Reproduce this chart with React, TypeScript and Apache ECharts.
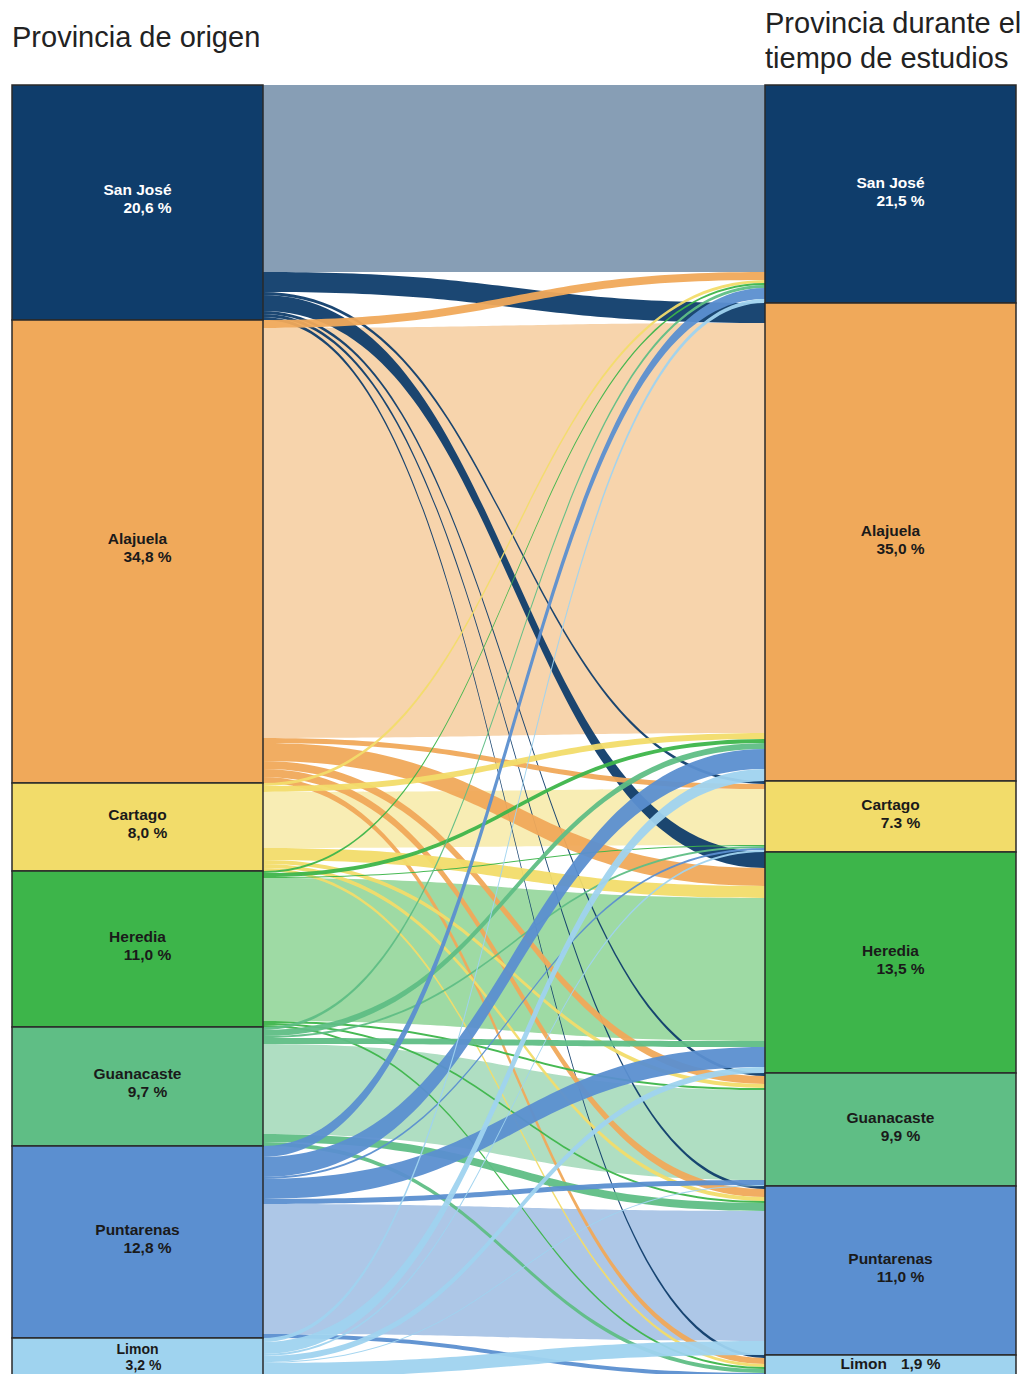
import React, { useEffect, useRef } from "react";
import * as echarts from "echarts";

// Provinces (same order on both sides)
const provinces = ["San José", "Alajuela", "Cartago", "Heredia", "Guanacaste", "Puntarenas", "Limon"];
// Percent labels shown in the nodes
const originPct = ["20,6 %", "34,8 %", "8,0 %", "11,0 %", "9,7 %", "12,8 %", "3,2 %"];
const studyPct = ["21,5 %", "35,0 %", "7.3 %", "13,5 %", "9,9 %", "11,0 %", "1,9 %"];
// Node colours
const provinceColors = ["#0f3d6b", "#f0a95a", "#f2dc6a", "#3db54a", "#5fbe85", "#5b8fd0", "#9fd3ef"];
const labelColors = ["#ffffff", "#1a1a1a", "#1a1a1a", "#1a1a1a", "#1a1a1a", "#1a1a1a", "#1a1a1a"];

// Flows from each origin province to each study province
//                       SJ   Al   Ca   He   Gu   Pu   Li
const fromSanJose =    [187,  20,   3,  16,   3,   3,   3];
const fromAlajuela =   [  8, 410,   5,  18,   8,   8,   6];
const fromCartago =    [  3,   6,  56,  12,   4,   4,   3];
const fromHeredia =    [  2,   4,   1, 143,   2,   2,   2];
const fromGuanacaste = [  3,   6,   2,   6,  90,   8,   4];
const fromPuntarenas = [ 11,  20,   2,  20,   5, 130,   4];
const fromLimon =      [  4,  12,   2,   6,   1,  14,   3];

const flowRows = [fromSanJose, fromAlajuela, fromCartago, fromHeredia, fromGuanacaste, fromPuntarenas, fromLimon];

const titleLeft = "Provincia de origen";
const titleRight = "Provincia durante el\ntiempo de estudios";

const FONT = "'Liberation Sans', Arial, Helvetica, sans-serif";

export default function App() {
  const ref = useRef<HTMLDivElement>(null);

  useEffect(() => {
    if (!ref.current) return;
    const chart = echarts.init(ref.current, undefined, { renderer: "svg" });

    const nodes: any[] = [];
    provinces.forEach((p, i) => {
      const last = i === provinces.length - 1;
      nodes.push({
        name: "o:" + p,
        lab: last ? `{nl|${p}}\n{pl|${originPct[i]}}` : `{n|${p}}\n{p|${originPct[i]}}`,
        itemStyle: { color: provinceColors[i] },
        label: last ? { color: labelColors[i], offset: [0, -2] } : { color: labelColors[i], offset: [0, -4] },
      });
    });
    provinces.forEach((p, i) => {
      const last = i === provinces.length - 1;
      nodes.push({
        name: "d:" + p,
        lab: last ? `{n|${p}}{q|${studyPct[i]}}` : `{n|${p}}\n{p|${studyPct[i]}}`,
        itemStyle: { color: provinceColors[i] },
        label: last ? { color: labelColors[i], offset: [0, -4] } : { color: labelColors[i], offset: [0, -3] },
      });
    });

    const selfLinks: any[] = [];
    const crossLinks: any[] = [];
    flowRows.forEach((row, i) => {
      row.forEach((v, j) => {
        const link = {
          source: "o:" + provinces[i],
          target: "d:" + provinces[j],
          value: v,
          lineStyle: {
            color: provinceColors[i],
            opacity: i === j ? 0.5 : 0.95,
          },
        };
        if (i === j) selfLinks.push(link);
        else crossLinks.push(link);
      });
    });

    const tok = { fontFamily: FONT, fontSize: 15.5, fontWeight: "bold", lineHeight: 18 };

    const option: any = {
      animation: false,
      backgroundColor: "#ffffff",
      title: [
        {
          text: titleLeft,
          left: 12,
          top: 22,
          padding: 0,
          textStyle: { fontFamily: FONT, fontSize: 29, fontWeight: "normal", color: "#222222" },
        },
        {
          text: titleRight,
          left: 765,
          top: 5,
          padding: 0,
          textStyle: { fontFamily: FONT, fontSize: 29, fontWeight: "normal", color: "#222222", lineHeight: 35 },
        },
      ],
      series: [
        {
          type: "sankey",
          left: 12,
          right: 8,
          top: 85,
          bottom: 10,
          nodeWidth: 251,
          nodeGap: 0,
          layoutIterations: 0,
          draggable: false,
          emphasis: { disabled: true },
          data: nodes,
          links: [...selfLinks, ...crossLinks],
          itemStyle: { borderColor: "#2a2a2a", borderWidth: 1.5 },
          lineStyle: { curveness: 0.5 },
          label: {
            show: true,
            position: "inside",
            fontFamily: FONT,
            fontSize: 15.5,
            fontWeight: "bold",
            lineHeight: 18,
            align: "center",
            formatter: (params: any) => params.data.lab,
            rich: {
              n: { ...tok },
              p: { ...tok, padding: [0, 0, 0, 20] },
              q: { ...tok, padding: [0, 0, 0, 14] },
              nl: { ...tok, fontSize: 14, lineHeight: 16 },
              pl: { ...tok, fontSize: 14, lineHeight: 16, padding: [0, 0, 0, 12] },
            },
          },
        },
      ],
    };

    chart.setOption(option);
    return () => chart.dispose();
  }, []);

  return (
    <div style={{ position: "absolute", left: 0, top: 0, width: 1024, height: 1374, overflow: "hidden", background: "#fff" }}>
      <div ref={ref} style={{ width: 1024, height: 1390 }} />
    </div>
  );
}
